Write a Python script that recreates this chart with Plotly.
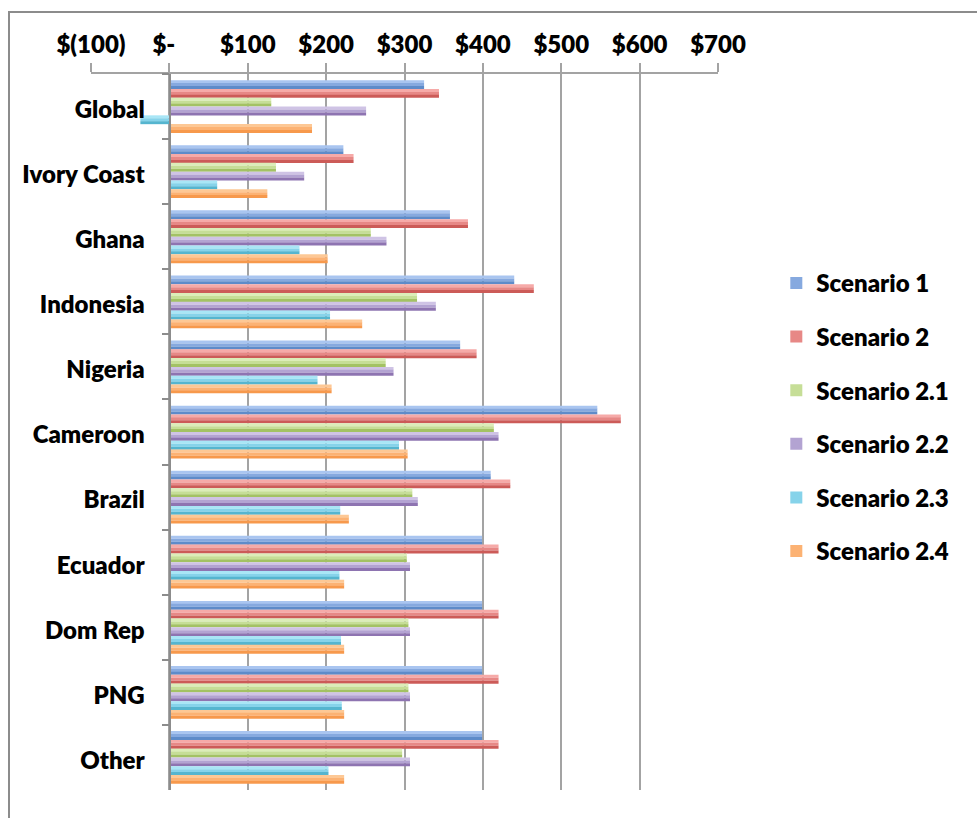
import plotly.graph_objects as go

categories = ['Global', 'Ivory Coast', 'Ghana', 'Indonesia', 'Nigeria', 'Cameroon',
              'Brazil', 'Ecuador', 'Dom Rep', 'PNG', 'Other']
scenario_names = ['Scenario 1', 'Scenario 2', 'Scenario 2.1', 'Scenario 2.2',
                  'Scenario 2.3', 'Scenario 2.4']
s1 = [325, 222, 358, 440, 371, 546, 410, 399, 399, 399, 399]
s2 = [344, 235, 381, 465, 392, 576, 435, 420, 420, 420, 420]
s21 = [130, 136, 257, 316, 276, 414, 310, 303, 305, 305, 297]
s22 = [251, 172, 277, 340, 286, 420, 317, 307, 307, 307, 307]
s23 = [-37, 61, 166, 205, 189, 293, 218, 217, 219, 220, 203]
s24 = [182, 125, 202, 246, 207, 304, 229, 223, 223, 223, 223]
series = [s1, s2, s21, s22, s23, s24]

tick_vals = [-100, 0, 100, 200, 300, 400, 500, 600, 700]
tick_text = ['$(100)', '$-\u00a0\u00a0', '$100', '$200', '$300', '$400', '$500', '$600', '$700']

# light / mid / dark shades to imitate the gradient fill
shades = [
    ('#a9c5f0', '#86a9df', '#5e8bc9'),
    ('#f6aaa8', '#e78886', '#cc5b58'),
    ('#dcedb9', '#c6de97', '#a3c264'),
    ('#cfc3e5', '#b3a3d2', '#8e74b1'),
    ('#a9e6f6', '#86d3ea', '#55b5cf'),
    ('#fdc895', '#fcb273', '#f7994c'),
]

FONT = 'Lato'
WEIGHT = 800
SIZE = 24
fig = go.Figure()
pitch = 0.135
band = pitch / 3
start = -3 * pitch
for i, (name, vals) in enumerate(zip(scenario_names, series)):
    o = start + i * pitch
    for b in range(3):
        fig.add_trace(go.Bar(
            x=vals, y=categories, orientation='h',
            offset=o + b * band, width=band * 1.02,
            marker=dict(color=shades[i][b], line=dict(width=0)),
            name=name, legendgroup=name, showlegend=(b == 1),
            hoverinfo='x+name',
        ))

fig.update_layout(
    width=977, height=818,
    margin=dict(l=91, r=259, t=74, b=28),
    paper_bgcolor='white', plot_bgcolor='white',
    barmode='overlay',
    font=dict(family=FONT, color='black', size=SIZE),
    showlegend=True,
    legend=dict(
        x=1.093, xanchor='left', y=0.739, yanchor='top',
        font=dict(family=FONT, size=SIZE, color='black', weight=WEIGHT),
        traceorder='grouped', tracegroupgap=19.4,
        bgcolor='rgba(0,0,0,0)',
    ),
    xaxis=dict(
        side='top', range=[-100, 700], tickmode='array',
        tickvals=tick_vals, ticktext=tick_text,
        showgrid=True, gridcolor='#a3a3a3', gridwidth=2,
        showline=True, linecolor='#a3a3a3', linewidth=2,
        ticks='outside', ticklen=9, tickwidth=2, tickcolor='#a3a3a3',
        zeroline=False,
        tickfont=dict(family=FONT, size=SIZE, color='black', weight=WEIGHT),
        fixedrange=True,
    ),
    yaxis=dict(
        type='category', categoryorder='array', categoryarray=categories,
        range=[10.5, -0.5],
        anchor='free', position=(169.5 - 91) / 627,
        showline=True, linecolor='#8c8c8c', linewidth=2,
        ticks='outside', ticklen=7, tickwidth=2, tickcolor='#8c8c8c',
        tickson='boundaries', showgrid=False,
        ticklabelstandoff=19, ticklabelshift=-3,
        tickfont=dict(family=FONT, size=SIZE, color='black', weight=WEIGHT),
        fixedrange=True,
    ),
    shapes=[dict(
        type='rect', xref='paper', yref='paper',
        x0=(9 - 91) / 627, x1=1.6, y0=-0.2, y1=(790 - 12) / 716,
        line=dict(color='#8c8c8c', width=2), fillcolor='rgba(0,0,0,0)', layer='below',
    )],
)

fig.write_html('out.html')
